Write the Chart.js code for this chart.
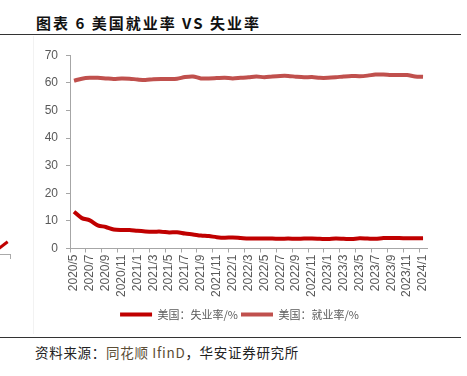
<!DOCTYPE html>
<html>
<head>
<meta charset="utf-8">
<script src="https://cdn.jsdelivr.net/npm/chart.js@4.4.1/dist/chart.umd.min.js"></script>
<style>
  body { margin: 0; background: #fff; width: 467px; height: 376px; position: relative; overflow: hidden; }
  #title { position: absolute; left: 36px; top: 12px; font: bold 15px "Noto Sans CJK SC", sans-serif; letter-spacing: 2px; color: #111; white-space: nowrap; }
  #rule1 { position: absolute; left: 0; top: 34px; width: 461px; height: 1px; background: #333; }
  #rule2 { position: absolute; left: 0; top: 337px; width: 461px; height: 1px; background: #333; }
  #frame { position: absolute; left: 33px; top: 36px; width: 1px; height: 298px; background: #f2f2f2; }
  #source { position: absolute; left: 35px; top: 342px; font: 13.5px "Noto Sans CJK SC", sans-serif; letter-spacing: 0.7px; color: #222; white-space: nowrap; }
  #source span { color: #5b4d35; }
  #wrap { position: absolute; left: 0; top: 40px; width: 467px; height: 290px; }
  #stub { position: absolute; left: -1px; top: 247px; width: 11px; height: 3px; background: #c00000; transform: rotate(-38deg); transform-origin: left center; }
  #bracket { position: absolute; left: 0; top: 254px; width: 10px; height: 4px; border-top: 1px solid #aaa; border-right: 1px solid #aaa; }
</style>
</head>
<body>
<div id="title">图表 6 美国就业率 VS 失业率</div>
<div id="rule1"></div>
<div id="frame"></div>
<div id="stub"></div>
<div id="bracket"></div>
<div id="wrap"><canvas id="chart"></canvas></div>
<div id="rule2"></div>
<div id="source">资料来源：<span>同花顺 IfinD</span>，华安证券研究所</div>
<script>
// months 2020/5 - 2024/1
const labels = [
    '2020/5', '2020/6', '2020/7', '2020/8', '2020/9', '2020/10', '2020/11', '2020/12',
    '2021/1', '2021/2', '2021/3', '2021/4', '2021/5', '2021/6', '2021/7', '2021/8', '2021/9', '2021/10', '2021/11', '2021/12',
    '2022/1', '2022/2', '2022/3', '2022/4', '2022/5', '2022/6', '2022/7', '2022/8', '2022/9', '2022/10', '2022/11', '2022/12',
    '2023/1', '2023/2', '2023/3', '2023/4', '2023/5', '2023/6', '2023/7', '2023/8', '2023/9', '2023/10', '2023/11', '2023/12',
    '2024/1'
];
const unemployment = [
    13.3, 11.0, 10.2, 8.4, 7.8, 6.9, 6.7, 6.7,
    6.4, 6.2, 6.1, 6.1, 5.8, 5.9, 5.4, 5.1, 4.7, 4.5, 4.1, 3.9,
    4.0, 3.8, 3.6, 3.6, 3.6, 3.6, 3.5, 3.6, 3.5, 3.6, 3.6, 3.5,
    3.4, 3.6, 3.5, 3.4, 3.7, 3.6, 3.5, 3.8, 3.8, 3.8, 3.7, 3.7,
    3.7
];
const employment = [
    60.8, 61.5, 61.8, 61.8, 61.6, 61.4, 61.6, 61.5,
    61.2, 61.0, 61.3, 61.4, 61.4, 61.5, 62.1, 62.3, 61.6, 61.6, 61.7, 61.8,
    61.6, 61.8, 62.0, 62.3, 62.0, 62.3, 62.5, 62.5, 62.2, 62.0, 62.1, 61.8,
    61.8, 62.0, 62.3, 62.5, 62.4, 62.6, 63.0, 63.0, 62.8, 62.8, 62.8, 62.3,
    62.2
];
const yTicks = [0, 10, 20, 30, 40, 50, 60, 70];

const axisGrey = '#a6a6a6';
const textGrey = '#595959';

const data = {
    labels: labels,
    datasets: [{
        label: '美国：失业率/%',
        data: unemployment,
        borderColor: '#c00000',
        backgroundColor: '#c00000',
        borderWidth: 4,
        pointRadius: 0,
        tension: 0.3,
        fill: false
    }, {
        label: '美国：就业率/%',
        data: employment,
        borderColor: '#c0504d',
        backgroundColor: '#c0504d',
        borderWidth: 4,
        pointRadius: 0,
        tension: 0.3,
        fill: false
    }]
};

// nudge the legend a little right, like the original
const legendShift = {
    id: 'legendShift',
    afterLayout(chart) {
        chart.legend.left += 6;
        chart.legend.right += 6;
    }
};

const config = {
    type: 'line',
    data: data,
    options: {
        responsive: true,
        maintainAspectRatio: false,
        animation: false,
        layout: { padding: { left: 40, right: 40, top: 15, bottom: 0 } },
        plugins: {
            tooltip: { enabled: false },
            legend: {
                position: 'bottom',
                labels: {
                    usePointStyle: true,
                    pointStyle: 'line',
                    pointStyleWidth: 32,
                    padding: 3,
                    color: textGrey,
                    font: { family: '"Noto Sans CJK SC", sans-serif', size: 11 }
                }
            }
        },
        scales: {
            x: {
                offset: true,
                grid: {
                    offset: true,
                    drawOnChartArea: false,
                    tickLength: 4,
                    tickColor: ctx => (ctx.index % 2 === 0 ? axisGrey : 'rgba(0,0,0,0)')
                },
                border: { color: axisGrey, width: 1 },
                ticks: {
                    autoSkip: false,
                    maxRotation: 90,
                    minRotation: 90,
                    padding: 2,
                    color: textGrey,
                    font: { family: '"Liberation Sans", Arial, sans-serif', size: 12 },
                    callback: (v, i) => (i % 2 === 0 ? labels[i] : '')
                },
                afterFit: s => { s.height = 57.5; }
            },
            y: {
                min: 0,
                max: 70,
                afterBuildTicks: s => { s.ticks = yTicks.map(v => ({ value: v })); },
                grid: { drawOnChartArea: false, tickLength: 4, color: axisGrey },
                border: { color: axisGrey, width: 1 },
                ticks: {
                    padding: 8,
                    color: textGrey,
                    font: { family: '"Liberation Sans", Arial, sans-serif', size: 12 }
                },
                afterFit: s => { s.width = 30; }
            }
        }
    },
    plugins: [legendShift]
};

const chart = new Chart(document.getElementById('chart'), config);
</script>
</body>
</html>
